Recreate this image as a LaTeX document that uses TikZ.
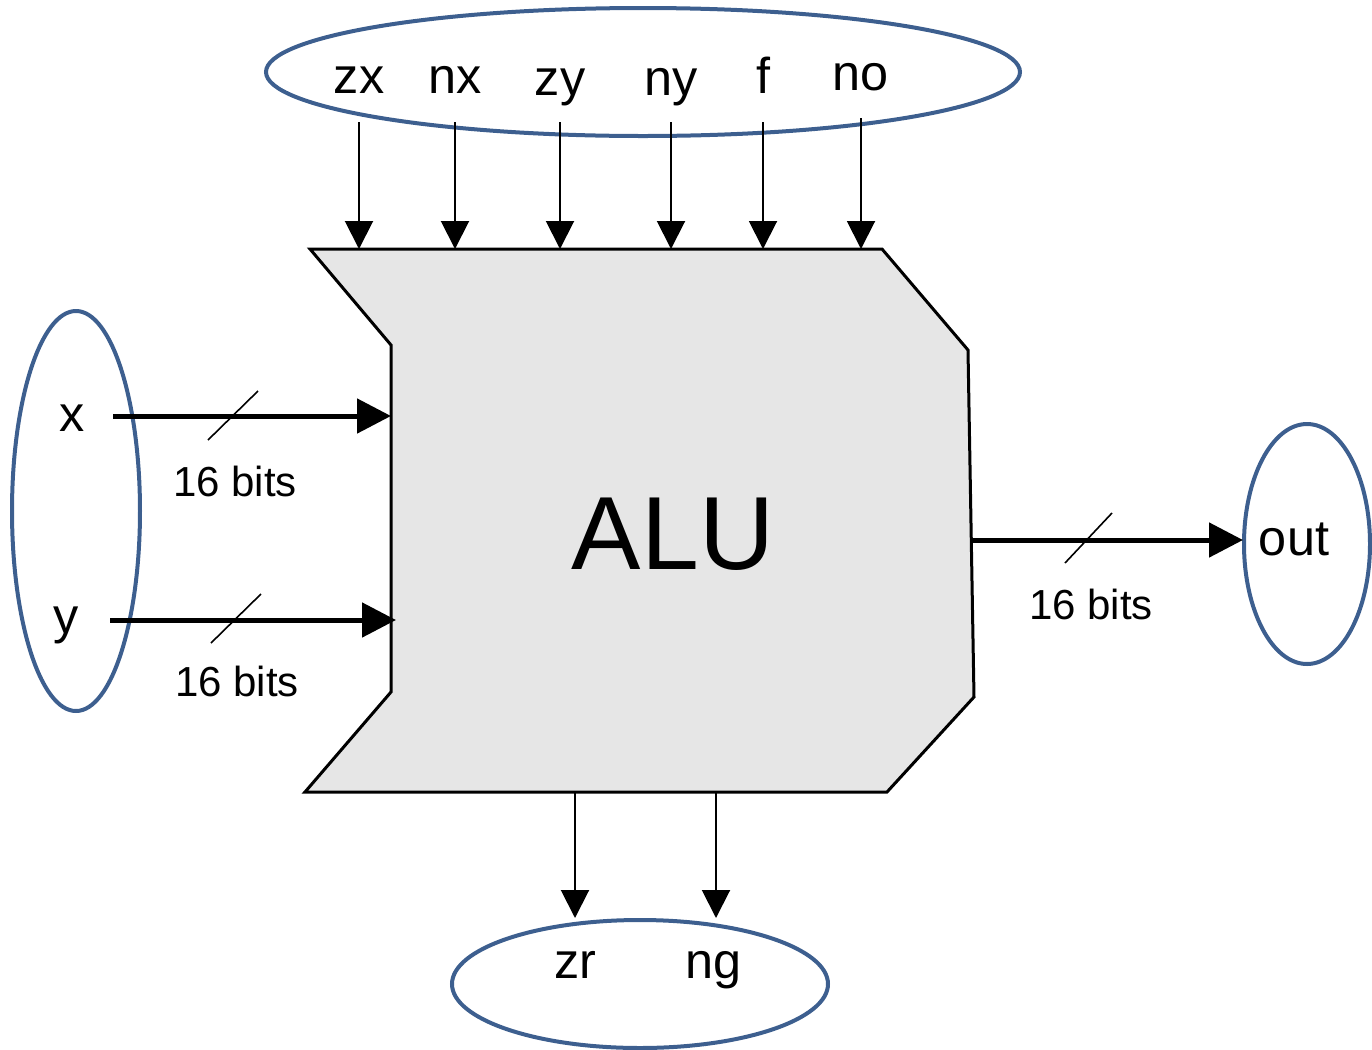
\documentclass[tikz,border=0pt]{standalone}
\usepackage{fontspec}
\setmainfont{Liberation Sans}
\usetikzlibrary{arrows.meta,calc}
\definecolor{ovalblue}{HTML}{3D5F8F}
\definecolor{alugray}{HTML}{E6E6E6}
\newcommand{\pinfont}{\fontsize{12.6}{15}\selectfont}
\newcommand{\busfont}{\fontsize{10.5}{13}\selectfont}
\newcommand{\alufont}{\fontsize{26}{30}\selectfont}

\begin{document}
\begin{tikzpicture}[x=0.25pt,y=-0.25pt]
  \path[use as bounding box] (0,0) rectangle (1372,1050);
  \tikzset{
    oval/.style={draw=ovalblue,line width=1pt},
    pin/.style={inner sep=0pt,anchor=base,font=\pinfont},
    buslabel/.style={inner sep=0pt,anchor=base,font=\busfont},
    ctl/.style={line width=0.5pt,-{Triangle[length=7pt,width=7pt]}},
    bus/.style={line width=1.25pt,-{Triangle[length=8.5pt,width=8.5pt]}},
    slash/.style={line width=0.4pt}
  }
  % ALU body
  \coordinate (tl) at (310,249);
  \coordinate (il) at (391,345);
  \coordinate (ir) at (972,540);
  \coordinate (bl) at (305,792);
  \draw[fill=alugray,line width=0.75pt,line join=miter]
    (tl) -- (882,249) -- (968,350) -- (974,697) -- (887,792) -- (bl)
    -- (391,692) -- (il) -- cycle;
  \node[inner sep=0pt,anchor=base,font=\alufont] (alu) at (673,569) {ALU};

  % ovals
  \draw[oval] (643,72) ellipse (377 and 64);
  \draw[oval] (76,511) ellipse (64 and 200);
  \draw[oval] (1307,544) ellipse (63 and 120);
  \draw[oval] (640,984) ellipse (188 and 64);

  % control bits
  \node[pin] (zx) at (359,93) {zx};
  \node[pin] (nx) at (455,93) {nx};
  \node[pin] (zy) at (560,95) {zy};
  \node[pin] (ny) at (671,95) {ny};
  \node[pin] (f) at (763,93) {f};
  \node[pin] (no) at (861,90) {no};
  \draw[ctl] ($(zx.base)+(0,29)$) -- (zx |- tl);
  \draw[ctl] ($(nx.base)+(0,29)$) -- (nx |- tl);
  \draw[ctl] ($(zy.base)+(0,27)$) -- (zy |- tl);
  \draw[ctl] ($(ny.base)+(0,27)$) -- (ny |- tl);
  \draw[ctl] ($(f.base)+(0,29)$) -- (f |- tl);
  \draw[ctl] ($(no.base)+(0,28)$) -- (no |- tl);

  % data inputs
  \node[pin] (x) at (72,431) {x};
  \node[pin] (y) at (66,633) {y};
  \draw[bus] ($(x.base)+(41,-15)$) -- ($(x.base -| il)+(0,-15)$);
  \draw[bus] ($(y.base)+(44,-13)$) -- ($(y.base -| il)+(5,-13)$);
  \draw[slash] (208,440) -- (258,391);
  \draw[slash] (211,643) -- (261,594);
  \node[buslabel] (xbits) at (235,496) {16 bits};
  \node[buslabel] (ybits) at (237,696) {16 bits};

  % output
  \node[pin] (out) at (1294,555) {out};
  \draw[bus] (ir) -- (1243,540);
  \draw[slash] (1065,563) -- (1112,513);
  \node[buslabel] (obits) at (1091,619) {16 bits};

  % status flags
  \node[pin] (zr) at (575,978) {zr};
  \node[pin] (ng) at (714,978) {ng};
  \draw[ctl] (zr |- bl) -- ($(zr.base)+(0,-60)$);
  \draw[ctl] ($(ng |- bl)+(2,0)$) -- ($(ng.base)+(2,-60)$);
\end{tikzpicture}
\end{document}
